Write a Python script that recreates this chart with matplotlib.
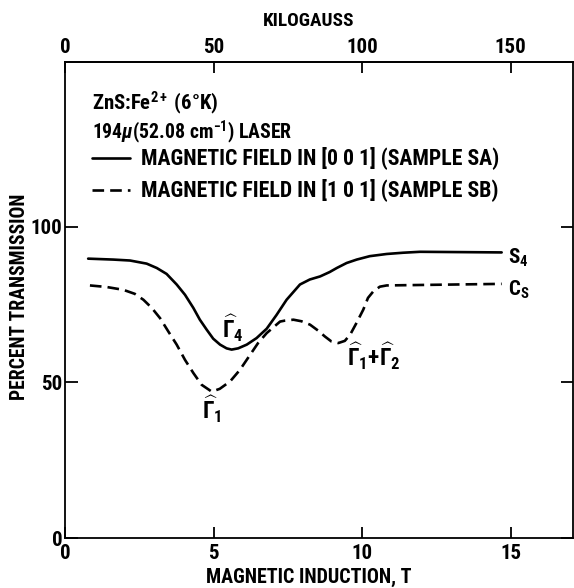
import matplotlib
matplotlib.use("Agg")
import matplotlib.pyplot as plt

fam = 'Roboto Condensed'
plt.rcParams['font.family'] = [fam, 'DejaVu Sans']
plt.rcParams['font.weight'] = 'bold'
plt.rcParams['mathtext.fontset'] = 'custom'
plt.rcParams['mathtext.rm'] = fam + ':bold'
plt.rcParams['mathtext.it'] = fam + ':italic:bold'
plt.rcParams['mathtext.bf'] = fam + ':bold'

# ---- data ----
field_T_sa = [0.78, 1.63, 2.19, 2.75, 3.09, 3.42, 3.76, 4.04, 4.32, 4.54, 4.77, 4.99,
              5.22, 5.44, 5.61, 5.83, 6.12, 6.45, 6.79, 7.12, 7.46, 7.91, 8.24, 8.59,
              8.91, 9.15, 9.48, 9.82, 10.26, 10.83, 11.38, 11.95, 14.7]
trans_sa = [89.7, 89.4, 89.1, 88.1, 86.7, 84.8, 81.4, 78.1, 73.9, 70.1, 66.9, 64.0,
            62.1, 60.9, 60.5, 60.9, 62.1, 64.2, 67.2, 71.6, 76.5, 81.4, 83.0, 84.0,
            85.4, 86.7, 88.3, 89.4, 90.5, 91.2, 91.6, 91.9, 91.7]

field_T_sb = [0.84, 1.40, 1.96, 2.35, 2.64, 2.92, 3.2, 3.48, 3.76, 4.04, 4.32, 4.60,
              4.94, 5.21, 5.56, 5.89, 6.23, 6.50, 6.79, 7.24, 7.40, 7.69, 7.96, 8.25,
              8.52, 8.75, 8.97, 9.2, 9.42, 9.6, 9.81, 10.04, 10.20, 10.38, 10.60, 10.83, 14.7]
trans_sb = [81.1, 80.6, 79.7, 78.4, 76.5, 73.9, 70.6, 66.3, 62.1, 57.2, 53.0, 49.2,
            47.0, 47.9, 50.3, 54.0, 58.8, 62.6, 65.8, 69.5, 69.8, 70.1, 69.6, 68.5,
            66.6, 64.7, 63.1, 62.6, 63.3, 65.3, 69.0, 73.3, 77.1, 79.2, 80.7, 81.1, 81.6]

legend_labels = ["MAGNETIC FIELD IN [0 0 1] (SAMPLE SA)",
                 "MAGNETIC FIELD IN [1 0 1] (SAMPLE SB)"]
x_ticks = [0, 5, 10, 15]
kg_ticks = [0, 50, 100, 150]
y_ticks = [0, 50, 100]

# ---- figure ----
fig = plt.figure(figsize=(5.74, 5.88), dpi=100)
ax = fig.add_axes([0.1132, 0.085, 0.885, 0.8104])

l1, = ax.plot(field_T_sa, trans_sa, color='black', lw=1.9,
              solid_joinstyle='round', solid_capstyle='round')
l2, = ax.plot(field_T_sb, trans_sb, color='black', lw=1.9, linestyle=(0, (4.4, 2.3)),
              dash_joinstyle='round')

ax.set_xlim(0, 17.1)
ax.set_ylim(0, 153)

for s in ax.spines.values():
    s.set_linewidth(1.3)

ax.set_xticks(x_ticks)
ax.set_xticklabels([str(t) for t in x_ticks])
ax.set_yticks(y_ticks)
ax.set_yticklabels([str(t) for t in y_ticks])
ax.tick_params(axis='x', direction='in', length=8, width=1.3, labelsize=15, pad=4)
ax.tick_params(axis='y', direction='in', length=9, width=1.3, labelsize=15, pad=2,
               right=True)

sec = ax.secondary_xaxis('top', functions=(lambda x: x * 10, lambda x: x / 10))
sec.set_xticks(kg_ticks)
sec.set_xticklabels([str(t) for t in kg_ticks])
sec.tick_params(axis='x', direction='in', length=8, width=1.3, labelsize=15, pad=3)
sec.spines['top'].set_linewidth(1.3)
sec.set_xlabel("KILOGAUSS", fontsize=13, fontweight='bold', va='bottom')
sec.xaxis.set_label_coords(0.48, 1.066, transform=ax.transAxes)

ax.set_xlabel("MAGNETIC INDUCTION, T", fontsize=13, fontweight='bold', va='top')
ax.xaxis.set_label_coords(0.48, -0.062, transform=ax.transAxes)
ax.set_ylabel("PERCENT TRANSMISSION", fontsize=13, fontweight='bold')
ax.yaxis.set_label_coords(-0.071, 0.506, transform=ax.transAxes)

# header texts
t_h1 = ax.text(0.053, 0.912, r"ZnS:Fe$^{2+}$ (6°K)", transform=ax.transAxes,
               fontsize=12.5, fontweight='bold', ha='left', va='center')
t_h2 = ax.text(0.053, 0.852, r"194$\mu$(52.08 cm$^{-1}$) LASER", transform=ax.transAxes,
               fontsize=12.5, fontweight='bold', ha='left', va='center')

leg = ax.legend([l1, l2], legend_labels, loc='upper left', bbox_to_anchor=(0.053, 0.822),
                frameon=False, fontsize=12.5, handlelength=2.2, handletextpad=0.65,
                labelspacing=0.5, borderpad=0, borderaxespad=0)

# curve annotations
ax.text(14.9, 90.0, r"S$_4$", fontsize=15, fontweight='bold', ha='left', va='center')
ax.text(14.9, 79.7, r"C$_\mathrm{S}$", fontsize=15, fontweight='bold', ha='left', va='center')
ax.text(5.66, 67.5, r"$\widehat{\Gamma}_4$", fontsize=17, ha='center', va='center')
ax.text(4.95, 41.5, r"$\widehat{\Gamma}_1$", fontsize=17, ha='center', va='center')
ax.text(9.48, 58.5, r"$\widehat{\Gamma}_1$+$\widehat{\Gamma}_2$", fontsize=17, ha='left', va='center')

# fit text widths to the reference
fig.canvas.draw()
r = fig.canvas.get_renderer()
def fit_w(t, target):
    w = t.get_window_extent(r).width
    t.set_fontsize(t.get_fontsize() * target / w)
def fit_h(t, target):
    h = t.get_window_extent(r).height
    t.set_fontsize(t.get_fontsize() * target / h)

lt = leg.get_texts()
w0 = lt[0].get_window_extent(r).width
fs_leg = lt[0].get_fontsize() * 358.0 / w0
for t in lt:
    t.set_fontsize(fs_leg)
fit_w(t_h1, 127)
fit_w(t_h2, 201)
fit_w(ax.xaxis.label, 205)
fit_w(sec.xaxis.label, 91)
fit_h(ax.yaxis.label, 205)

fig.savefig("out.png", dpi=100)
